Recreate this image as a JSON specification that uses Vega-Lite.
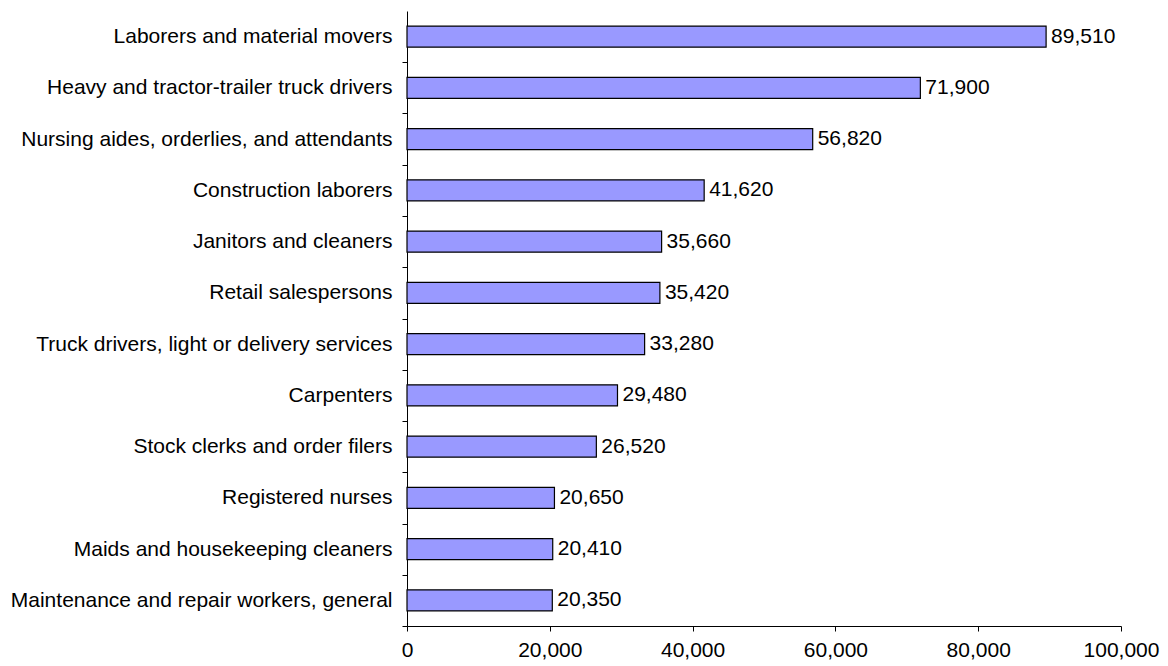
{
  "$schema": "https://vega.github.io/schema/vega-lite/v6.json",
  "autosize": "none",
  "width": 714,
  "height": 615,
  "padding": {"left": 407, "top": 11, "right": 47, "bottom": 40},
  "background": "white",
  "config": {"view": {"stroke": null}, "font": "Liberation Sans"},
  "data": {"values": [
    {"occupation": "Laborers and material movers", "value": 89510},
    {"occupation": "Heavy and tractor-trailer truck drivers", "value": 71900},
    {"occupation": "Nursing aides, orderlies, and attendants", "value": 56820},
    {"occupation": "Construction laborers", "value": 41620},
    {"occupation": "Janitors and cleaners", "value": 35660},
    {"occupation": "Retail salespersons", "value": 35420},
    {"occupation": "Truck drivers, light or delivery services", "value": 33280},
    {"occupation": "Carpenters", "value": 29480},
    {"occupation": "Stock clerks and order filers", "value": 26520},
    {"occupation": "Registered nurses", "value": 20650},
    {"occupation": "Maids and housekeeping cleaners", "value": 20410},
    {"occupation": "Maintenance and repair workers, general", "value": 20350}
  ]},
  "encoding": {
    "y": {"field": "occupation", "type": "nominal", "sort": null,
      "scale": {"paddingInner": 0.59, "paddingOuter": 0.295},
      "axis": {"title": null, "tickOffset": 25.625, "labelOffset": -25.625, "domainColor": "black", "tickColor": "black",
        "tickSize": 5, "labelFontSize": 21, "labelColor": "black", "labelPadding": 10, "labelLimit": 500}},
    "x": {"field": "value", "type": "quantitative",
      "scale": {"domain": [0, 100000], "nice": false},
      "axis": {"title": null, "values": [0, 20000, 40000, 60000, 80000, 100000],
        "labelExpr": "format(datum.value, ',')", "grid": false,
        "domainColor": "black", "tickColor": "black", "tickSize": 5, "labelFontSize": 21, "labelColor": "black",
        "labelPadding": 8, "labelFlush": false}}
  },
  "layer": [
    {"mark": {"type": "bar", "fill": "#9999FF", "stroke": "black", "strokeWidth": 1.2}},
    {"mark": {"type": "text", "align": "left", "dx": 5, "fontSize": 21, "color": "black"},
      "encoding": {"text": {"field": "value", "type": "quantitative", "format": ","}}}
  ]
}
